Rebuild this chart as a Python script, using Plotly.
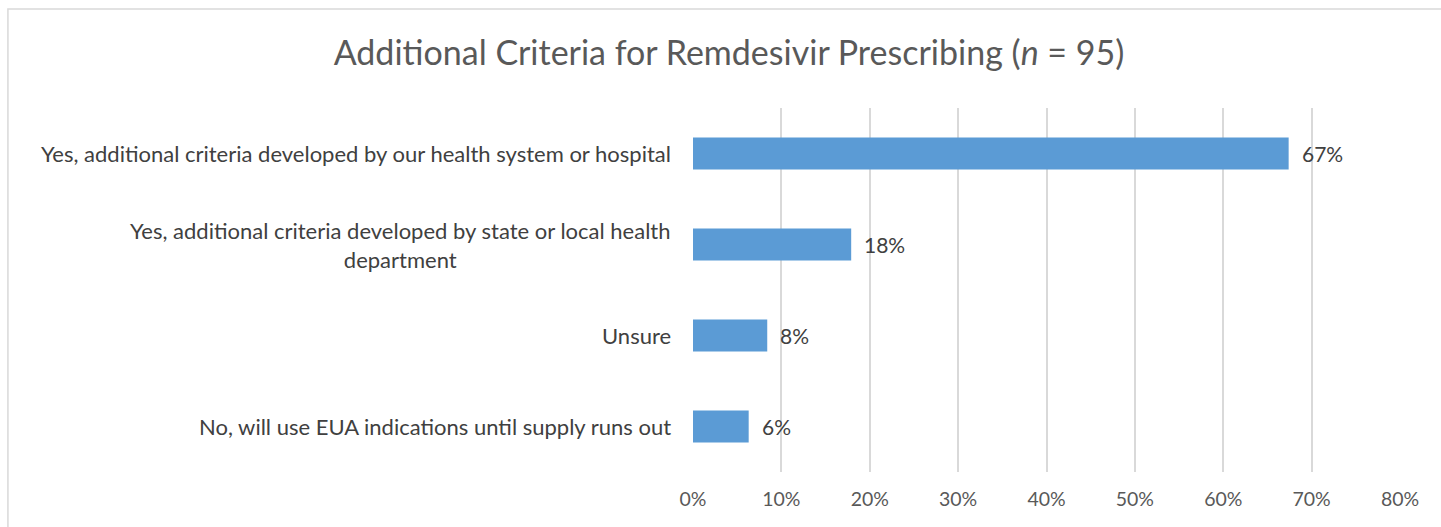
import plotly.graph_objects as go

categories = [
    "Yes, additional criteria developed by our health system or hospital",
    "Yes, additional criteria developed by state or local health<br>department",
    "Unsure",
    "No, will use EUA indications until supply runs out",
]
shares = [67.4, 17.9, 8.4, 6.3]
share_labels = ["67%", "18%", "8%", "6%"]
tick_vals = [0, 10, 20, 30, 40, 50, 60, 70, 80]
tick_text = ["0%", "10%", "20%", "30%", "40%", "50%", "60%", "70%", "80%"]

FONT = "Lato"
BAR = "#5b9bd5"
TEXT = "#404040"
GREY = "#595959"

fig = go.Figure(go.Bar(
    x=shares,
    y=categories,
    orientation="h",
    marker=dict(color=BAR, line=dict(color=BAR, width=0)),
    width=0.35,
    hoverinfo="skip",
))

# category labels as annotations so wrapped lines stay centred like Excel
for cat in categories:
    fig.add_annotation(
        x=0, xref="paper", y=cat, yref="y",
        text=cat, showarrow=False,
        xanchor="right", xshift=-20, align="center",
        font=dict(family=FONT, size=22, color=TEXT),
    )

# value labels just past each bar end
for cat, val, lab in zip(categories, shares, share_labels):
    fig.add_annotation(
        x=val, xref="x", y=cat, yref="y",
        text=lab, showarrow=False,
        xanchor="left", xshift=11,
        font=dict(family=FONT, size=21, color=TEXT),
    )

# chart-area frame (runs off the right and bottom edges, as in the source)
fig.add_shape(type="rect", xref="paper", yref="paper",
              x0=-0.969, x1=1.3, y0=-0.5, y1=1.272,
              line=dict(color="#d9d9d9", width=1.5), fillcolor="rgba(0,0,0,0)")

fig.update_layout(
    width=1441, height=527,
    margin=dict(l=693, r=41, t=108, b=55),
    paper_bgcolor="white", plot_bgcolor="white",
    showlegend=False,
    title=dict(
        text="Additional Criteria for Remdesivir Prescribing (<i>n</i> = 95)",
        x=729 / 1441, xref="container", xanchor="center",
        y=0.9, yref="container", yanchor="middle",
        font=dict(family=FONT, size=34, color=GREY),
    ),
    font=dict(family=FONT, color=GREY),
    bargap=0.65,
)
fig.update_xaxes(
    range=[0, 80], tickvals=tick_vals, ticktext=tick_text,
    showgrid=True, gridcolor="#d9d9d9", gridwidth=1.5,
    zeroline=False, showline=False, ticks="",
    tickfont=dict(family=FONT, size=19.5, color=GREY),
    ticklabelstandoff=13,
)
fig.update_yaxes(
    categoryorder="array", categoryarray=categories[::-1],
    showticklabels=False, showgrid=False, zeroline=False, ticks="",
)

fig.write_html(
    "out.html",
    config={"displayModeBar": False},
    post_script="document.body.style.margin='0';document.body.style.overflow='hidden';",
)
